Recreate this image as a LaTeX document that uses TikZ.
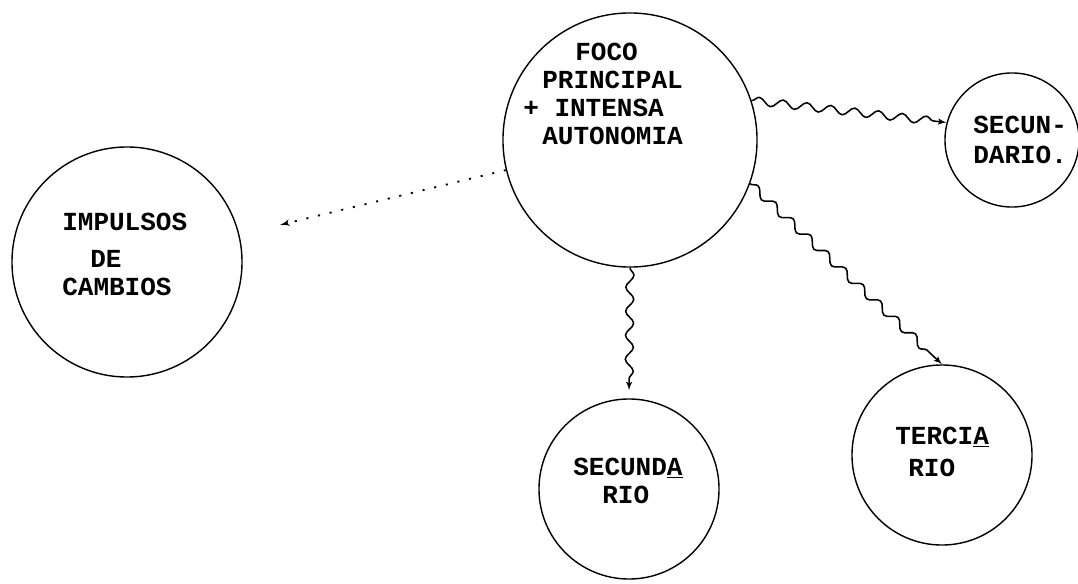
\documentclass[tikz,border=0pt]{standalone}
\usepackage{fontspec}
\setmonofont{Liberation Mono}
\usepackage{tikz}
\tikzset{
    bubble/.style={circle,draw,line width=1pt,inner sep=0pt},
    words/.style={anchor=north west,inner sep=0pt,align=left,font=\ttfamily\bfseries\fontsize{18.5}{19.8}\selectfont},
    wave/.style={->,> = latex',line width=1.1pt,decorate,decoration={snake,amplitude=1mm,segment length=6mm,post length=3mm}},
    dots/.style={->,> = latex',line width=1.3pt,dash pattern=on 1.5pt off 7pt}
}
\usetikzlibrary{arrows,decorations.pathmorphing}

\begin{document}
\begin{tikzpicture}[x=0.025cm,y=-0.025cm]
\useasboundingbox (0,0) rectangle (1078,584);
\fill[white] (0,0) rectangle (1078,584);

% circles
\node[bubble,minimum size=6.35cm] (foco) at (630,140) {};
\node[bubble,minimum size=3.35cm] (secd) at (1012,140) {};
\node[bubble,minimum size=5.75cm] (impulsos) at (127,262) {};
\node[bubble,minimum size=4.5cm] (secb) at (629,489) {};
\node[bubble,minimum size=4.5cm] (terc) at (942,455) {};

% texts
\node[words] (tfoco) at (523,43) {\hspace*{1.3cm}FOCO\\\hspace*{0.475cm}PRINCIPAL\\+ INTENSA\\\hspace*{0.475cm}AUTONOMIA};
\node[words] (tsecd) at (973,116) {SECUN-\\[0.05cm]DARIO.};
\node[words] (timpulsos) at (62,213) {IMPULSOS\\[0.225cm]\hspace*{0.7cm}DE\\CAMBIOS};
\node[words] (tsecb) at (573,458) {SECUND\underline{A}\\\hspace*{0.725cm}RIO};
\node[words] (tterc) at (895,427) {TERCI\underline{A}\\[0.1cm]\hspace*{0.325cm}RIO};

% connectors
\draw[dots,shorten >=1.05cm] (foco) to (impulsos);
\draw[wave] (foco.18) to (secd.165);
\draw[wave,shorten >=0.2cm] (foco.south) to (secb.north);
\draw[wave] (foco.-20) to (terc.north);
%\draw[wave] (foco) to (terc);

\end{tikzpicture}
\end{document}
